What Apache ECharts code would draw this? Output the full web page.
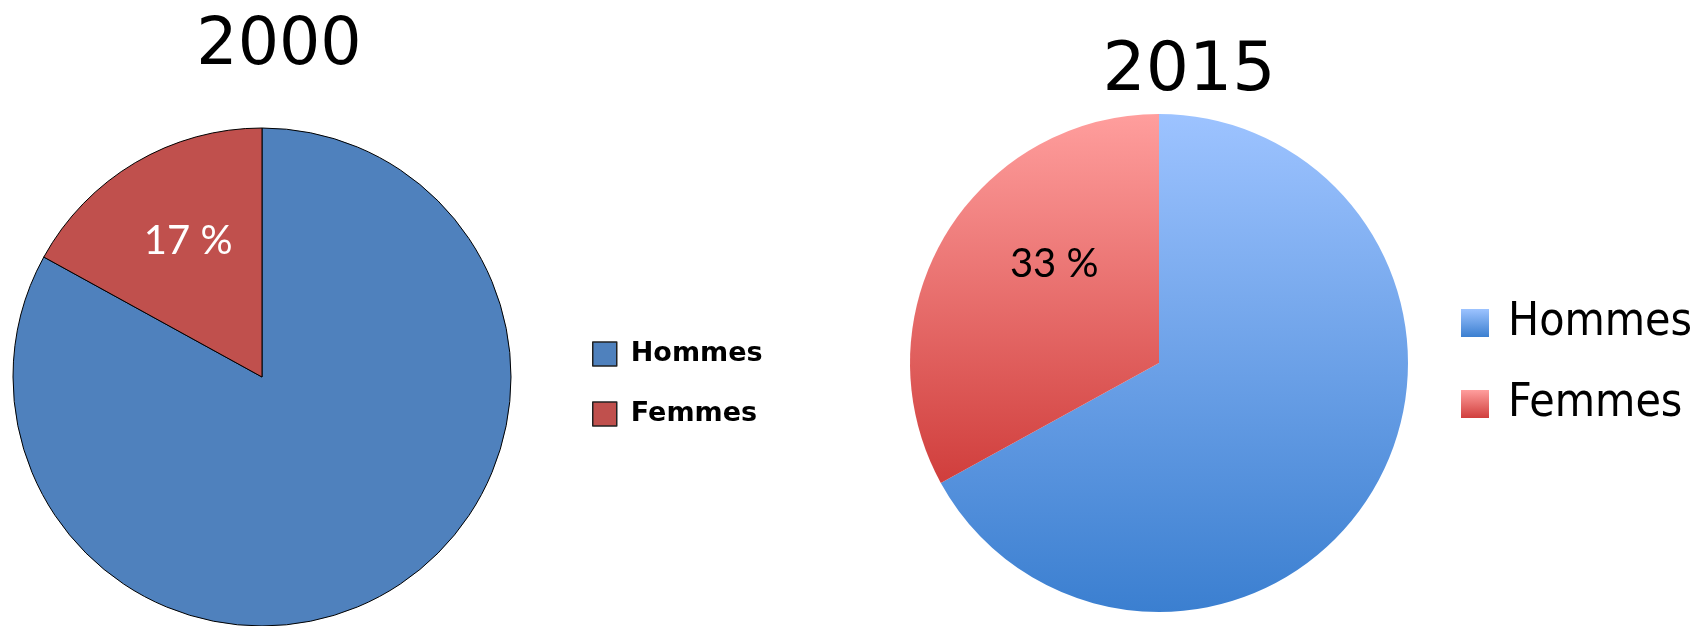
<!DOCTYPE html>
<html>
<head>
<meta charset="utf-8">
<script src="https://cdn.jsdelivr.net/npm/echarts@6/dist/echarts.min.js"></script>
<style>
html,body{margin:0;padding:0;background:#fff;}
#c{width:1695px;height:626px;}
</style>
</head>
<body>
<div id="c"></div>
<script>
const categories = ['Hommes', 'Femmes'];
const years = ['2000', '2015'];
const values2000 = [83, 17];
const values2015 = [67, 33];

const flat2000 = ['#4F81BD', '#C0504D'];
const grad = (top, bottom) => new echarts.graphic.LinearGradient(0, 0, 0, 1, [
  { offset: 0, color: top }, { offset: 1, color: bottom }
]);
const grad2015 = [grad('#9DC3FF', '#3B7FD0'), grad('#FF9E9D', '#D03E3C')];

const chart = echarts.init(document.getElementById('c'));

function pieData(values, colors, labelColor) {
  return categories.map((name, i) => ({
    name: name,
    value: values[i],
    itemStyle: { color: colors[i] },
    label: { show: name === 'Femmes', color: labelColor }
  }));
}

function legendFor(name, style, left, top, iw, ih, fontSize, fontWeight, lineHeight, pad, family) {
  return {
    orient: 'vertical', left: left, top: top, padding: 0,
    itemWidth: iw, itemHeight: ih, selectedMode: false,
    data: [{ name: name, itemStyle: style, icon: 'rect' }],
    textStyle: { fontSize: fontSize, fontWeight: fontWeight, color: '#000', fontFamily: family,
      lineHeight: lineHeight, padding: [0, 0, 0, pad] }
  };
}

chart.setOption({
  animation: false,
  backgroundColor: '#fff',
  title: [
    { text: years[0], left: 279, top: 11, textAlign: 'center', padding: 0,
      textStyle: { fontSize: 65, fontWeight: 'normal', color: '#000', fontFamily: 'DejaVu Sans', lineHeight: 72 } },
    { text: years[1], left: 1189, top: 36, textAlign: 'center', padding: 0,
      textStyle: { fontSize: 68, fontWeight: 'normal', color: '#000', fontFamily: 'DejaVu Sans', lineHeight: 72 } }
  ],
  legend: [
    legendFor(categories[0], { color: flat2000[0], borderColor: '#222', borderWidth: 1.5 }, 592, 339, 24, 24, 27, 'bold', 30, 9, 'DejaVu Sans'),
    legendFor(categories[1], { color: flat2000[1], borderColor: '#222', borderWidth: 1.5 }, 592, 399, 24, 24, 27, 'bold', 30, 9, 'DejaVu Sans'),
    legendFor(categories[0], { color: grad2015[0], borderWidth: 0 }, 1461, 298, 28, 28, 46, 'normal', 50, 14, 'DejaVu Sans Condensed'),
    legendFor(categories[1], { color: grad2015[1], borderWidth: 0 }, 1461, 379, 28, 28, 46, 'normal', 50, 14, 'DejaVu Sans Condensed')
  ],
  series: [
    {
      type: 'pie', name: years[0], center: [262, 377], radius: 249,
      startAngle: 90, clockwise: true, silent: true,
      itemStyle: { borderColor: '#000', borderWidth: 1 },
      label: { position: 'inside', formatter: p => p.value + ' %', fontSize: 40, fontFamily: 'Lato', fontWeight: 'normal' },
      labelLayout: { dx: -9, dy: -26 },
      labelLine: { show: false },
      data: pieData(values2000, flat2000, '#fff')
    },
    {
      type: 'pie', name: years[1], center: [1159, 363], radius: 249,
      startAngle: 90, clockwise: true, silent: true,
      itemStyle: { borderWidth: 0 },
      label: { position: 'inside', formatter: p => p.value + ' %', fontSize: 40, fontFamily: 'Lato', fontWeight: 'normal' },
      labelLayout: { dx: 5, dy: -34 },
      labelLine: { show: false },
      data: pieData(values2015, grad2015, '#000')
    }
  ]
});
</script>
</body>
</html>
